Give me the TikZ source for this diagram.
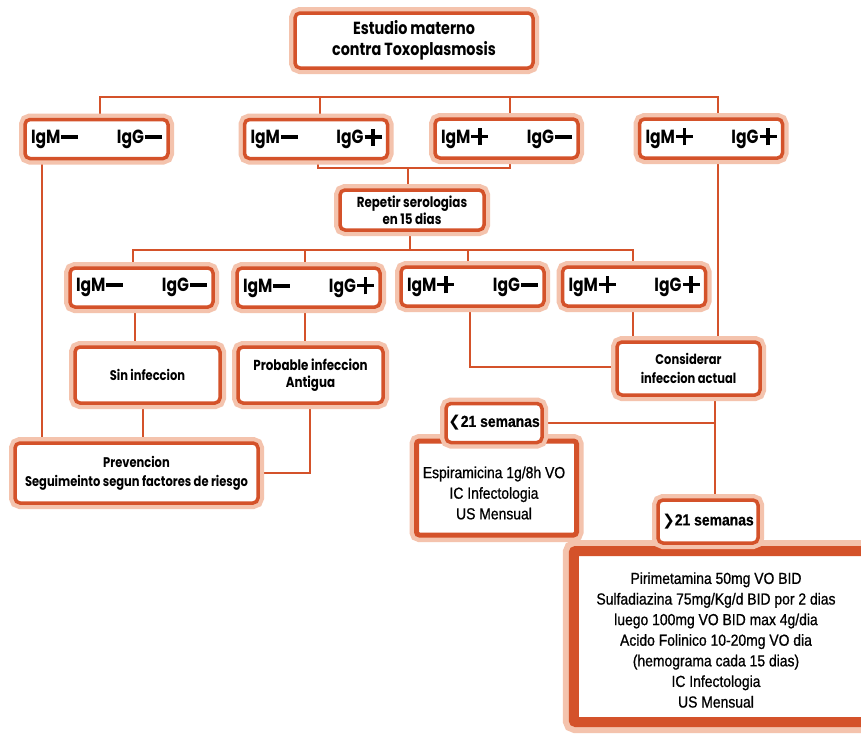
\documentclass[tikz,border=0pt]{standalone}
\usepackage{fontspec}
\setmainfont{Liberation Sans}
\newfontfamily\hd[FakeStretch=0.82]{Poppins}
\newfontfamily\bd[FakeStretch=0.87,FakeBold=0.8]{Liberation Sans}
\newfontfamily\dv{DejaVu Sans}
\usetikzlibrary{backgrounds}
\definecolor{org}{HTML}{D4522A}
\definecolor{glow}{HTML}{F4C3AD}
\newcommand\minussign{\kern1pt\rule[4.5pt]{17pt}{4pt}}
\newcommand\plussign{\kern1pt\rlap{\rule[5pt]{17pt}{3.5pt}}\kern6.75pt\rule[-2pt]{3.5pt}{17pt}\kern6.75pt}
\newcommand\igrow[2]{\hbox to 131pt{IgM#1\hfill IgG#2}}
\tikzset{
  box/.style={rectangle, rounded corners=5pt, draw=org, line width=3.5pt, fill=white,
    inner sep=0pt, align=center, preaction={draw=glow, line width=12pt}},
  igbox/.style={box, minimum width=143pt, minimum height=39pt, font=\hd\bfseries\fontsize{19}{22}\selectfont},
  link/.style={draw=org, line width=2.6pt},
  body/.style={font=\bd\fontsize{16}{20.6}\selectfont, align=center, inner sep=0pt},
}
\begin{document}
\begin{tikzpicture}[x=1pt,y=-1pt]
\useasboundingbox (0,0) rectangle (861,745);
\clip (0,0) rectangle (861,745);

\node[box, minimum width=238pt, minimum height=55pt, font=\hd\bfseries\fontsize{17.5}{21}\selectfont] (title) at (414,40.5) {Estudio materno\\contra Toxoplasmosis};

\node[igbox] (A) at (96.5,139) {\igrow{\minussign}{\minussign}};
\node[igbox] (B) at (316,139) {\igrow{\minussign}{\plussign}};
\node[igbox] (C) at (506.5,138.5) {\igrow{\plussign}{\minussign}};
\node[igbox] (D) at (711,138.5) {\igrow{\plussign}{\plussign}};

\node[box, minimum width=144pt, minimum height=40pt, font=\hd\bfseries\fontsize{14.5}{15}\selectfont] (R) at (412,210) {Repetir serologias\\en 15 dias};

\node[igbox] (E) at (141.5,287.5) {\igrow{\minussign}{\minussign}};
\node[igbox] (F) at (308.5,287.5) {\igrow{\minussign}{\plussign}};
\node[igbox] (G) at (472.5,286.5) {\igrow{\plussign}{\minussign}};
\node[igbox] (H) at (634,286.5) {\igrow{\plussign}{\plussign}};

\node[box, minimum width=145pt, minimum height=56pt, font=\hd\bfseries\fontsize{14}{17}\selectfont] (Sin) at (147.5,375) {Sin infeccion};
\node[box, minimum width=145pt, minimum height=56pt, font=\hd\bfseries\fontsize{14.5}{17}\selectfont] (Prob) at (310.5,375) {Probable infeccion\\Antigua};
\node[box, minimum width=143pt, minimum height=53pt, font=\hd\bfseries\fontsize{14}{19}\selectfont] (Cons) at (688.5,368.5) {Considerar\\infeccion actual};
\node[box, minimum width=243pt, minimum height=60pt, font=\hd\bfseries\fontsize{14}{19}\selectfont] (Prev) at (136.5,473) {Prevencion\\Seguimeinto segun factores de riesgo};

% treatment boxes
\node[box, rounded corners=3pt, line width=5pt, preaction={draw=glow, line width=14pt}, minimum width=160pt, minimum height=94pt] (Esp) at (496.5,488) {};
\node[body] (EspT) at (494,493) {Espiramicina 1g/8h VO\\IC Infectologia\\US Mensual};
\node[box, minimum width=96pt, minimum height=39pt, font=\bd\bfseries\fontsize{16}{18}\selectfont] (lt) at (494,423) {{\dv\bfseries\fontsize{15}{15}\selectfont ❮}21 semanas};

\node[box, rounded corners=2pt, line width=10pt, preaction={draw=glow, line width=22pt}, minimum width=326pt, minimum height=171pt] (Big) at (736.75,636.5) {};
\node[body] (BigT) at (716,640) {Pirimetamina 50mg VO BID\\Sulfadiazina 75mg/Kg/d BID por 2 dias\\luego 100mg VO BID max 4g/dia\\Acido Folinico 10-20mg VO dia\\(hemograma cada 15 dias)\\IC Infectologia\\US Mensual};
\node[box, minimum width=100pt, minimum height=43pt, font=\bd\bfseries\fontsize{16}{18}\selectfont] (gt) at (708,521.5) {{\dv\bfseries\fontsize{15}{15}\selectfont ❯}21 semanas};

\begin{scope}[on background layer]
\fill[white] (0,0) rectangle (861,745);
\coordinate (t1) at (100,97); \coordinate (t2) at (320,97);
\coordinate (t3) at (510,97); \coordinate (t4) at (718,97);
\draw[link] (t1 |- A.north) -- (t1) -- (t4) -- (t4 |- D.north);
\draw[link] (t2) -- (t2 |- B.north);
\draw[link] (t3) -- (t3 |- C.north);
\coordinate (j1) at (318,168); \coordinate (j2) at (510,168); \coordinate (j3) at (408,168);
\draw[link] (j1 |- B.south) -- (j1) -- (j2) -- (j2 |- C.south);
\draw[link] (j3) -- (j3 |- R.north);
\coordinate (m0) at (410,250); \coordinate (m1) at (133,250); \coordinate (m2) at (305,250);
\coordinate (m3) at (468,250); \coordinate (m4) at (633,250);
\draw[link] (m0 |- R.south) -- (m0);
\draw[link] (m1 |- E.north) -- (m1) -- (m4) -- (m4 |- H.north);
\draw[link] (m2) -- (m2 |- F.north);
\draw[link] (m3) -- (m3 |- G.north);
\coordinate (v1) at (135,320); \coordinate (v2) at (305,320);
\draw[link] (v1 |- E.south) -- (v1 |- Sin.north);
\draw[link] (v2 |- F.south) -- (v2 |- Prob.north);
\coordinate (v3) at (470,367);
\draw[link] (v3 |- G.south) -- (v3) -- (v3 -| Cons.west);
\coordinate (v4) at (633,320); \coordinate (v5) at (718,250);
\draw[link] (v4 |- H.south) -- (v4 |- Cons.north);
\draw[link] (v5 |- D.south) -- (v5 |- Cons.north);
\coordinate (v6) at (42,300); \coordinate (v7) at (143,420);
\draw[link] (v6 |- A.south) -- (v6 |- Prev.north);
\draw[link] (v7 |- Sin.south) -- (v7 |- Prev.north);
\coordinate (v8) at (310,473);
\draw[link] (v8 |- Prob.south) -- (v8) -- (v8 -| Prev.east);
\coordinate (v9) at (715,423);
\draw[link] (v9 |- Cons.south) -- (v9 |- gt.north);
\draw[link] (v9) -- (v9 -| lt.east);
\end{scope}
\end{tikzpicture}
\end{document}
